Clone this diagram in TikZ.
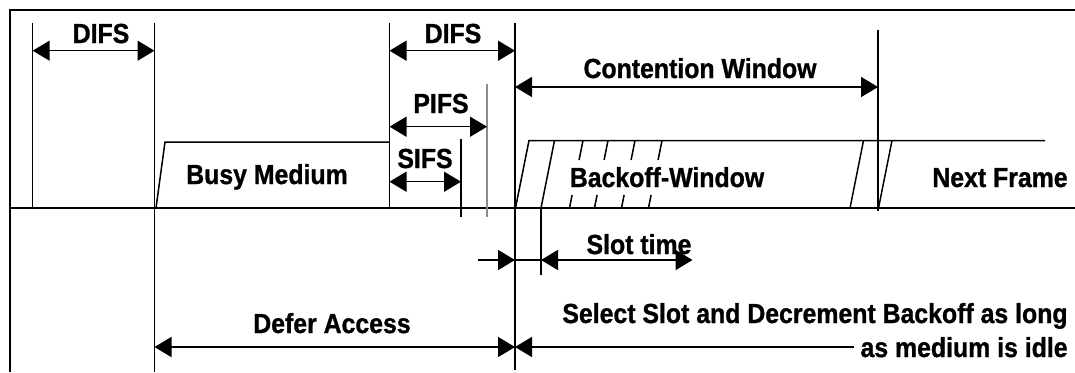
\documentclass[tikz,border=0pt]{standalone}
\usepackage{fontspec}
\setmainfont{Liberation Sans}[BoldFeatures={FakeStretch=0.9,FakeBold=1}]
\usetikzlibrary{arrows.meta}
\begin{document}
\begin{tikzpicture}[x=0.5pt,y=-0.5pt,
  ln/.style={line width=0.75pt},
  frameline/.style={line width=1.3pt},
  grayline/.style={line width=0.75pt, black!45},
  lbl/.style={font=\fontsize{13.8pt}{15pt}\selectfont\bfseries, inner sep=0pt, anchor=base},
  rlbl/.style={lbl, anchor=base east},
  tipR/.style={ln, -{Triangle[length=8.5pt,width=10pt]}},
  tipL/.style={ln, {Triangle[length=8.5pt,width=10pt]}-},
  dimarrow/.style={ln, {Triangle[length=8.5pt,width=10pt]}-{Triangle[length=8.5pt,width=10pt]}},
]
\useasboundingbox (0,0) rectangle (1075,372);
% frame
\coordinate (fb) at (10,372);
\coordinate (fc) at (10,10);
\coordinate (fr) at (1075,10);
\draw[frameline] (fb) -- (fc) -- (fr);
% time axis
\coordinate (axL) at (10,208);
\coordinate (axR) at (1075,208);
\draw[ln] (axL) -- (axR);
% vertical markers
\coordinate (v1t) at (32.7,23);  \coordinate (v1b) at (32.7,208);
\coordinate (v2t) at (154.5,23); \coordinate (v2b) at (154.5,372);
\coordinate (v3t) at (389.5,23); \coordinate (v3b) at (389.5,208);
\coordinate (v4t) at (515,23);   \coordinate (v4b) at (515,370);
\coordinate (vst) at (461,139);  \coordinate (vsb) at (461,217);
\coordinate (vpt) at (487,84);   \coordinate (vpb) at (487,217);
\coordinate (vct) at (878,30);   \coordinate (vcb) at (878,211);
\coordinate (vslt) at (541,208); \coordinate (vslb) at (541,275);
\draw[ln] (v1t) -- (v1b);
\draw[ln] (v2t) -- (v2b);
\draw[ln] (v3t) -- (v3b);
\draw[ln] (v4t) -- (v4b);
\draw[ln] (vst) -- (vsb);
\draw[grayline] (vpt) -- (vpb);
\draw[ln] (vct) -- (vcb);
\draw[ln] (vslt) -- (vslb);
% busy medium
\coordinate (bm0) at (156,208);
\coordinate (bm1) at (165,142);
\coordinate (bm2) at (389.5,142);
\draw[ln] (bm0) -- (bm1) -- (bm2);
% backoff window
\coordinate (bw0) at (515.5,208);
\coordinate (bw1) at (529,140.5);
\coordinate (bw2) at (1045,140.5);
\draw[ln] (bw0) -- (bw1) -- (bw2);
\coordinate (s2b) at (541,208);   \coordinate (s2t) at (554.5,140.5);
\coordinate (sAb) at (850,208);   \coordinate (sAt) at (863.5,140.5);
\coordinate (sBb) at (878.5,208); \coordinate (sBt) at (892,140.5);
\draw[ln] (s2b) -- (s2t);
\draw[ln] (sAb) -- (sAt);
\draw[ln] (sBb) -- (sBt);
\foreach \t in {583,608,635,662}{
  \draw[ln] (\t,140.5) -- ++(-3.9,19.5);
  \draw[ln] (\t-10.9,195) -- (\t-13.5,208);
}
% dimension arrows
\draw[dimarrow] (v1t |- 0,50.7) -- (v2t |- 0,50.7);
\draw[dimarrow] (v3t |- 0,50.7) -- (v4t |- 0,50.7);
\draw[dimarrow] (v3t |- 0,126.7) -- (vpt |- 0,126.7);
\draw[dimarrow] (v3t |- 0,181.7) -- (vst |- 0,181.7);
\draw[dimarrow] (v4t |- 0,87) -- (vct |- 0,87);
% slot time row
\coordinate (slA) at (478,260);
\coordinate (slB) at (515,260);
\coordinate (slC) at (541,260);
\coordinate (slD) at (692.5,260);
\draw[tipR] (slA) -- (slB);
\draw[ln] (slB) -- (slC);
\draw[dimarrow] (slC) -- (slD);
% defer row
\coordinate (dfA) at (154.5,347);
\coordinate (dfB) at (515,347);
\coordinate (dfC) at (854,347);
\draw[dimarrow] (dfA) -- (dfB);
\draw[tipL] (dfB) -- (dfC);
% labels
\node[lbl] (difs1) at (101,43) {DIFS};
\node[lbl] (difs2) at (453,43) {DIFS};
\node[lbl] (pifs) at (441,113) {PIFS};
\node[lbl] (sifs) at (425,168) {SIFS};
\node[lbl] (cw) at (700,78) {Contention Window};
\node[lbl] (busy) at (267,184) {Busy Medium};
\node[lbl] (bo) at (667,187) {Backoff-Window};
\node[lbl] (nf) at (1000,187) {Next Frame};
\node[lbl] (slot) at (639,254) {Slot time};
\node[lbl] (defer) at (332,333) {Defer Access};
\node[rlbl] (sel1) at (1068,323) {Select Slot and Decrement Backoff as long};
\node[rlbl] (sel2) at (1068,357) {as medium is idle};
\end{tikzpicture}
\end{document}
